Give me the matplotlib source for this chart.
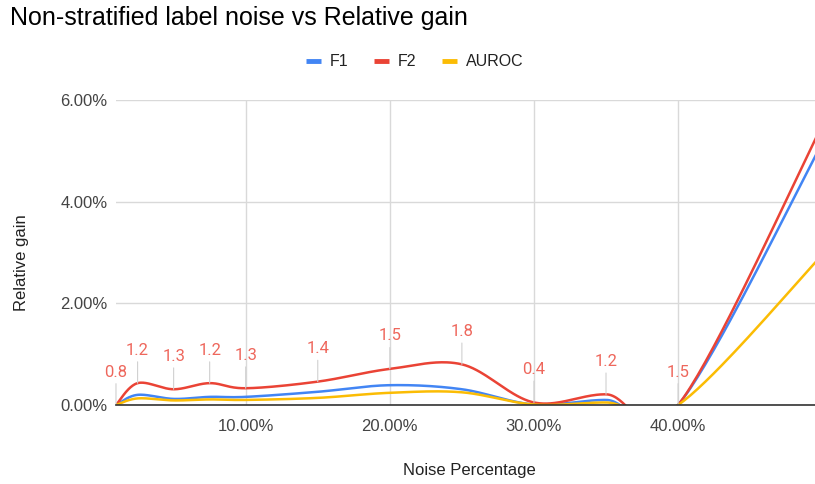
import numpy as np
import matplotlib
matplotlib.use('Agg')
import matplotlib.pyplot as plt
from matplotlib.ticker import FuncFormatter

plt.rcParams['font.family'] = ['Liberation Sans', 'DejaVu Sans']

# Noise percentage (x) and relative gain (%)
noise = [1, 2.5, 5, 7.5, 10, 15, 20, 25, 30, 35, 40, 50]
f1 = [0.0, 0.20, 0.12, 0.16, 0.16, 0.26, 0.39, 0.31, 0.01, 0.10, 0.0, 5.15]
f2 = [0.0, 0.43, 0.31, 0.43, 0.33, 0.46, 0.71, 0.80, 0.05, 0.21, 0.0, 5.5]
auroc = [0.0, 0.13, 0.09, 0.11, 0.10, 0.14, 0.24, 0.25, 0.01, 0.05, 0.0, 2.95]
point_labels = ['0.8', '1.2', '1.3', '1.2', '1.3', '1.4', '1.5', '1.8', '0.4', '1.2', '1.5', '']

colors = {'F1': '#4285F4', 'F2': '#EA4335', 'AUROC': '#FBBC04'}


def smooth(x, y, n=40, k=1 / 6):
    # catmull-rom style bezier through the points (like the sheets "smooth" option)
    p = np.column_stack([x, y]).astype(float)
    p_ext = np.vstack([p[0], p, p[-1]])
    t = np.linspace(0, 1, n)[:, None]
    pts = []
    for i in range(len(p) - 1):
        p0, p1 = p[i], p[i + 1]
        c1 = p0 + (p_ext[i + 2] - p_ext[i]) * k
        c2 = p1 - (p_ext[i + 3] - p_ext[i + 1]) * k
        seg = ((1 - t)**3 * p0 + 3 * (1 - t)**2 * t * c1
               + 3 * (1 - t) * t**2 * c2 + t**3 * p1)
        pts.append(seg)
    pts = np.vstack(pts)
    return pts[:, 0], pts[:, 1]


fig = plt.figure(figsize=(8.15, 4.84), dpi=100)
ax = fig.add_axes([0.1423, 0.1632, 0.8577, 0.6302])

for name, vals in [('F1', f1), ('F2', f2), ('AUROC', auroc)]:
    sx, sy = smooth(noise, vals)
    ax.plot(sx, sy, color=colors[name], lw=1.8, label=name, solid_capstyle='round')

for x, y, lab in zip(noise, f2, point_labels):
    if not lab:
        continue
    ax.annotate(lab, xy=(x, y), xytext=(0, 33), textcoords='offset pixels',
                ha='center', va='center', fontsize=12, color='#EE675C',
                family=['Roboto', 'DejaVu Sans'],
                arrowprops=dict(arrowstyle='-', color='#d0d0d0', lw=0.8,
                                shrinkA=1, shrinkB=0))

ax.set_xlim(1, 49.5)
ax.set_ylim(0, 6)
ax.set_xticks([10, 20, 30, 40])
ax.set_yticks([0, 2, 4, 6])
ax.xaxis.set_major_formatter(FuncFormatter(lambda v, p: f'{v:.2f}%'))
ax.yaxis.set_major_formatter(FuncFormatter(lambda v, p: f'{v:.2f}%'))
ax.grid(True, color='#d9d9d9', lw=1)
ax.set_axisbelow(True)
for s in ['top', 'right', 'left']:
    ax.spines[s].set_visible(False)
ax.spines['bottom'].set_color('#333333')
ax.spines['bottom'].set_linewidth(1.2)
ax.spines['bottom'].set_zorder(5)
ax.tick_params(length=0, labelsize=12, labelcolor='#444444')
ax.tick_params(axis='x', pad=10)
ax.tick_params(axis='y', pad=6)

fig.text(469 / 815, 1 - 470 / 484, 'Noise Percentage', fontsize=12,
         color='#222222', ha='center', va='center')
fig.text(21.5 / 815, 1 - 263 / 484, 'Relative gain', fontsize=12,
         color='#222222', ha='center', va='center', rotation=90)

fig.text(10 / 815, 1 - 18 / 484, 'Non-stratified label noise vs Relative gain',
         fontsize=18, color='#000000', va='center', ha='left')

fig.legend(loc='center', bbox_to_anchor=(415 / 815, 1 - 62 / 484), ncol=3, frameon=False,
           fontsize=11.5, handlelength=0.95, handletextpad=0.55, columnspacing=1.6,
           labelcolor='#222222')
for line in fig.legends[0].get_lines():
    line.set_linewidth(3.5)
    line.set_solid_capstyle('butt')

fig.savefig('out.png', dpi=100)
